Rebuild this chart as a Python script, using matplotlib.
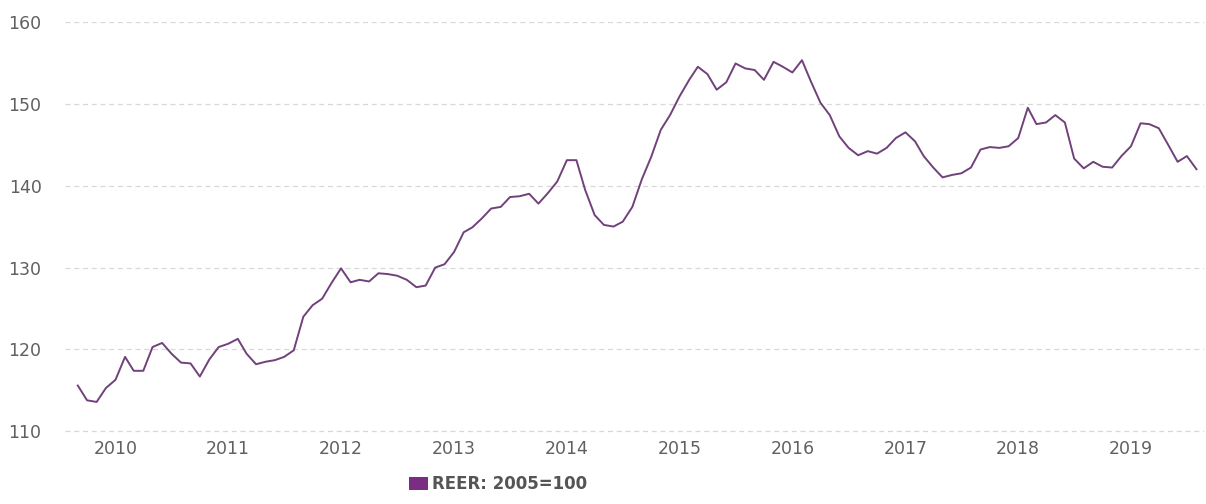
"""REER monthly index, Sep 2009 - Aug 2019 (2005=100)."""

import numpy as np
import pandas as pd
import matplotlib
matplotlib.use("Agg")
import matplotlib.pyplot as plt
import matplotlib.dates as mdates
from matplotlib.patches import Patch

# monthly observations, starting Sep 2009
start_month = "2009-09-01"
reer = [
    115.6, 113.8, 113.6, 115.3, 116.3, 119.1, 117.4, 117.4, 120.3, 120.8,
    119.5, 118.4, 118.3, 116.7, 118.8, 120.3, 120.7, 121.3, 119.5, 118.2,
    118.5, 118.7, 119.1, 119.9, 124.0, 125.4, 126.2, 128.1, 129.9, 128.2,
    128.5, 128.3, 129.3, 129.2, 129.0, 128.5, 127.6, 127.8, 130.0, 130.4,
    131.9, 134.3, 134.9, 136.0, 137.2, 137.4, 138.6, 138.7, 139.0, 137.8,
    139.1, 140.5, 143.1, 143.1, 139.5, 136.4, 135.2, 135.0, 135.6, 137.4,
    140.8, 143.5, 146.8, 148.6, 150.9, 152.9, 154.5, 153.6, 151.7, 152.6,
    154.9, 154.3, 154.1, 152.9, 155.1, 154.5, 153.8, 155.3, 152.7, 150.1,
    148.6, 146.0, 144.6, 143.7, 144.2, 143.9, 144.6, 145.8, 146.5, 145.4,
    143.6, 142.2, 141.0, 141.3, 141.5, 142.2, 144.4, 144.7, 144.6, 144.8,
    145.8, 149.5, 147.5, 147.7, 148.6, 147.7, 143.3, 142.1, 142.9, 142.3,
    142.2, 143.6, 144.8, 147.6, 147.5, 147.0, 145.0, 142.9, 143.6, 142.0,
]
series_label = "REER: 2005=100"
y_ticks = [110, 120, 130, 140, 150, 160]

dates = pd.date_range(start_month, periods=len(reer), freq="MS")

fig = plt.figure(figsize=(12.06, 5.04), dpi=100)
ax = fig.add_axes([0.054, 0.1407, 0.944, 0.8163])

ax.plot(dates, reer, color="#70417a", lw=1.4, solid_joinstyle="round")

ax.set_ylim(109.8, 160)
ax.set_yticks(y_ticks)
ax.set_xlim(pd.Timestamp("2009-07-22"), pd.Timestamp("2019-08-24"))
ax.xaxis.set_major_locator(mdates.YearLocator())
ax.xaxis.set_major_formatter(mdates.DateFormatter("%Y"))

ax.grid(axis="y", color="#d8d8d8", lw=0.9, ls=(0, (4, 3)))
ax.set_axisbelow(True)
for s in ax.spines.values():
    s.set_visible(False)
ax.tick_params(axis="y", length=0, pad=17, labelsize=12.5, labelcolor="#606060")
ax.tick_params(axis="x", length=0, pad=5, labelsize=12.5, labelcolor="#606060")

handle = Patch(facecolor="#7b2d84", edgecolor="none")
fig.legend([handle], [series_label], loc="lower center",
           bbox_to_anchor=(0.413, -0.008), frameon=False,
           handlelength=1.1, handleheight=0.8, handletextpad=0.25,
           prop={"weight": "bold", "size": 12}, labelcolor="#555555")

fig.savefig("out.png", dpi=100)
plt.close(fig)
